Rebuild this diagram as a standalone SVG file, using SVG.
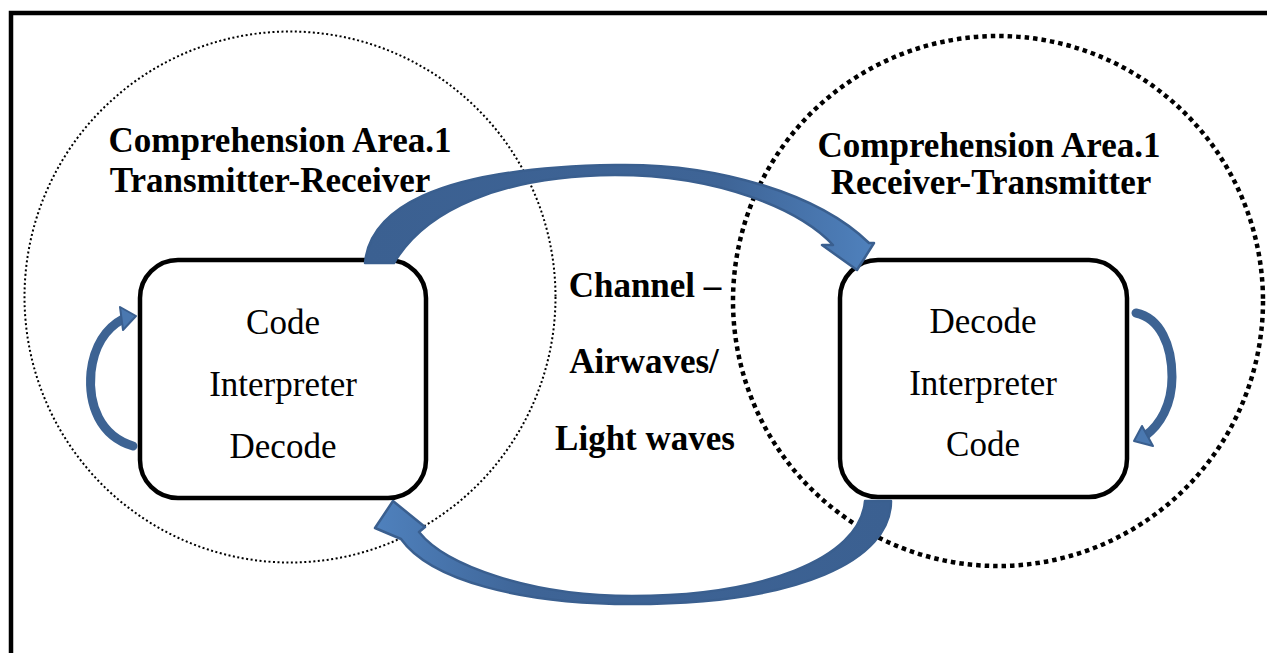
<svg xmlns="http://www.w3.org/2000/svg" width="1267" height="653" viewBox="0 0 1267 653">
<style>
.head{font-family:"Liberation Serif","Times New Roman",serif;font-weight:bold;font-size:35px;fill:#000;text-anchor:middle}
.body{font-family:"Liberation Serif","Times New Roman",serif;font-size:35px;fill:#000;text-anchor:middle}
.box{fill:#fff;stroke:#000;stroke-width:4.5}
.arrow{stroke:#3a5f8f;stroke-width:2.5;stroke-linejoin:round}
.loop{fill:none;stroke:#3d6393;stroke-width:9;stroke-linecap:round}
.loophead{fill:#4a78b0;stroke:#3a5f8f;stroke-width:2;stroke-linejoin:round}
</style>
<defs>
<linearGradient id="gTop" gradientUnits="userSpaceOnUse" x1="365" y1="0" x2="875" y2="0">
<stop offset="0" stop-color="#3b6091"/><stop offset="0.7" stop-color="#3e6496"/><stop offset="1" stop-color="#4f81bd"/>
</linearGradient>
<linearGradient id="gBot" gradientUnits="userSpaceOnUse" x1="891" y1="0" x2="375" y2="0">
<stop offset="0" stop-color="#3b6091"/><stop offset="0.7" stop-color="#3e6496"/><stop offset="1" stop-color="#4f81bd"/>
</linearGradient>
</defs>
<rect width="1267" height="653" fill="#fff"/>
<rect x="11" y="13" width="1300" height="700" fill="none" stroke="#000" stroke-width="4.5"/>
<g id="area-left">
<circle cx="290" cy="297" r="265.5" fill="none" stroke="#000" stroke-width="2" stroke-dasharray="2 2.5"/>
<text class="head" x="280" y="152">Comprehension Area.1</text>
<text class="head" x="270" y="192">Transmitter-Receiver</text>
</g>
<g id="area-right">
<circle cx="998" cy="301" r="265" fill="none" stroke="#000" stroke-width="4.5" stroke-dasharray="4.5 4"/>
<text class="head" x="989" y="157">Comprehension Area.1</text>
<text class="head" x="991" y="194">Receiver-Transmitter</text>
</g>
<g id="channel">
<text class="head" x="645" y="297">Channel –</text>
<text class="head" x="644" y="373">Airwaves/</text>
<text class="head" x="645" y="450">Light waves</text>
</g>
<g id="box-left">
<rect class="box" x="140" y="260" width="286" height="238" rx="38" ry="38"/>
<text class="body" x="283" y="334">Code</text>
<text class="body" x="283" y="396">Interpreter</text>
<text class="body" x="283" y="458">Decode</text>
</g>
<g id="box-right">
<rect class="box" x="840" y="260" width="287" height="237" rx="38" ry="38"/>
<text class="body" x="983" y="333">Decode</text>
<text class="body" x="983" y="395">Interpreter</text>
<text class="body" x="983" y="456">Code</text>
</g>
<g id="connectors">
<path class="arrow" fill="url(#gTop)" d="M365,263 C370,212 430,168 615,165 C720,163 820,195 869,243 L874,243 L857,270 L822,245 L833,245 C800,210 720,175 615,175 C500,176 425,210 394,263 Z"/>
<path class="arrow" fill="url(#gBot)" d="M891,501 C891,560 800,604 632,604 C520,604 430,580 401,539 L375,528 L393,501 L425,527 L419,532 C445,565 530,596 632,596 C760,596 860,560 865,501 Z"/>
<path class="loop" d="M133,446 C100,436 88,405 91,372 C94,346 106,328 123,319"/>
<polygon class="loophead" points="120,307 136,316 123,330"/>
<path class="loop" d="M1136,313 C1160,318 1172,345 1172,377 C1172,405 1160,425 1145,436"/>
<polygon class="loophead" points="1134,441 1142,426 1153,446"/>
</g>
</svg>
